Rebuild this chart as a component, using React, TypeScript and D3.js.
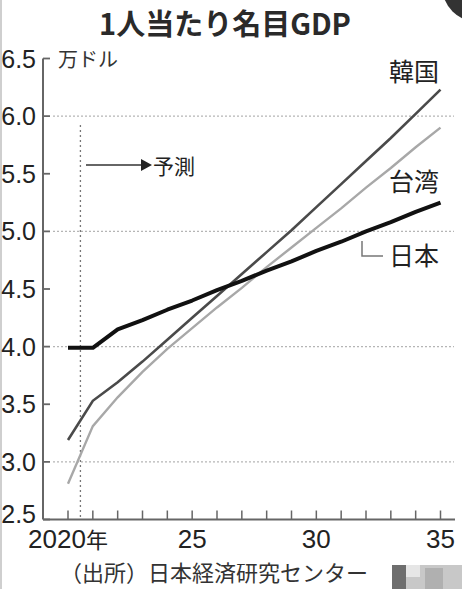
import React from "react";
import * as d3 from "d3";

const years = [2020, 2021, 2022, 2023, 2024, 2025, 2026, 2027, 2028, 2029, 2030, 2031, 2032, 2033, 2034, 2035];
const korea = [3.19, 3.53, 3.69, 3.87, 4.06, 4.25, 4.44, 4.63, 4.82, 5.01, 5.21, 5.41, 5.61, 5.81, 6.02, 6.23];
const taiwan = [2.81, 3.31, 3.56, 3.78, 3.98, 4.16, 4.34, 4.51, 4.69, 4.86, 5.03, 5.2, 5.38, 5.55, 5.73, 5.9];
const japan = [3.99, 3.99, 4.15, 4.23, 4.32, 4.4, 4.49, 4.57, 4.66, 4.74, 4.83, 4.91, 5.0, 5.08, 5.17, 5.25];
const yTicks = [2.5, 3.0, 3.5, 4.0, 4.5, 5.0, 5.5, 6.0, 6.5];
const gridValues = [3, 4, 5, 6];
const xLabels = [
  { year: 2020, label: "2020年" },
  { year: 2025, label: "25" },
  { year: 2030, label: "30" },
  { year: 2035, label: "35" },
];

const W = 462;
const H = 589;
const NUM = "'Liberation Sans Narrow', 'Arial Narrow', 'Liberation Sans', sans-serif";
const JP = "'Noto Sans CJK JP', sans-serif";

export default function App() {
  const x = d3.scaleLinear().domain([2020, 2035]).range([68, 440.5]);
  const y = d3.scaleLinear().domain([2.5, 6.5]).range([519.5, 58.5]);
  const line = (vals: number[]) =>
    d3.line<number>().x((_, i) => x(years[i])).y((v) => y(v))(vals) || "";

  const axisX = x.range()[0] - 25;

  return (
    <svg
      width={W}
      height={H}
      style={{ position: "absolute", left: 0, top: 0, background: "#fff" }}
    >
      <rect x={0} y={0} width={W} height={H} fill="#fff" />
      <rect x={0} y={0} width={2} height={H} fill="#cfcfcf" />
      <circle cx={478} cy={-14} r={36} fill="#333" />

      <text x={225} y={35} textAnchor="middle" fontFamily={JP} fontWeight={700} fontSize={29} fill="#2a2a2a">
        1人当たり名目GDP
      </text>

      {/* grid */}
      {gridValues.map((v) => (
        <line key={v} x1={axisX + 10} x2={454} y1={y(v)} y2={y(v)} stroke="#b5b5b5" strokeWidth={1.2} strokeDasharray="2,2" />
      ))}

      {/* forecast marker */}
      <line x1={x(2020.5)} x2={x(2020.5)} y1={125} y2={y(2.5)} stroke="#777" strokeWidth={1.3} strokeDasharray="2,3" />
      <line x1={86} x2={142} y1={165} y2={165} stroke="#333" strokeWidth={1.5} />
      <path d="M141,159 L152,165 L141,171 Z" fill="#222" />
      <text x={153} y={165} dominantBaseline="central" fontFamily={JP} fontSize={21} fill="#222">
        予測
      </text>

      {/* axes */}
      <line x1={axisX} x2={axisX} y1={y(6.5)} y2={y(2.5)} stroke="#666" strokeWidth={2} />
      <line x1={axisX} x2={455} y1={y(2.5)} y2={y(2.5)} stroke="#666" strokeWidth={2} />
      {yTicks.map((t) => (
        <g key={t}>
          <line x1={axisX} x2={axisX + 7} y1={y(t)} y2={y(t)} stroke="#666" strokeWidth={1.8} />
          <text
            x={36}
            y={t === 2.5 ? y(t) - 6 : y(t)}
            textAnchor="end"
            dominantBaseline="central"
            fontFamily={NUM}
            fontSize={25}
            fill="#222"
          >
            {t.toFixed(1)}
          </text>
        </g>
      ))}
      {years.map((yr) => (
        <line key={yr} x1={x(yr)} x2={x(yr)} y1={y(2.5)} y2={y(2.5) - 9} stroke="#666" strokeWidth={1.5} />
      ))}
      {xLabels.map((d) => (
        <text key={d.year} x={x(d.year)} y={548} textAnchor="middle" fontFamily={NUM} fontSize={26} fill="#222">
          {d.label.replace("年", "")}
          {d.label.includes("年") && <tspan fontFamily={JP} fontSize={22}>年</tspan>}
        </text>
      ))}
      <text x={58} y={58} dominantBaseline="central" fontFamily={JP} fontSize={20} fill="#333">
        万ドル
      </text>

      {/* series */}
      <path d={line(taiwan)} fill="none" stroke="#a8a8a8" strokeWidth={2.4} />
      <path d={line(korea)} fill="none" stroke="#4a4a4a" strokeWidth={2.6} />
      <path d={line(japan)} fill="none" stroke="#111" strokeWidth={4} strokeLinejoin="round" />

      {/* labels */}
      <text x={414} y={70} textAnchor="middle" dominantBaseline="central" fontFamily={JP} fontSize={25} fill="#222">
        韓国
      </text>
      <text x={414} y={180} textAnchor="middle" dominantBaseline="central" fontFamily={JP} fontSize={25} fill="#222">
        台湾
      </text>
      <path d="M362,241 L362,256 L383,256" fill="none" stroke="#777" strokeWidth={1.5} />
      <text x={414} y={254} textAnchor="middle" dominantBaseline="central" fontFamily={JP} fontSize={25} fill="#222">
        日本
      </text>

      <text x={60} y={581} fontFamily={JP} fontSize={22} fill="#333">
        （出所）日本経済研究センター
      </text>
      {/* watermark block */}
      <rect x={392} y={565} width={70} height={24} fill="#c8c8c8" />
      <rect x={392} y={565} width={14} height={24} fill="#6e6e6e" />
      <rect x={406} y={565} width={14} height={12} fill="#e6e6e6" />
      <rect x={425} y={568} width={18} height={21} fill="#b0b0b0" />
    </svg>
  );
}
